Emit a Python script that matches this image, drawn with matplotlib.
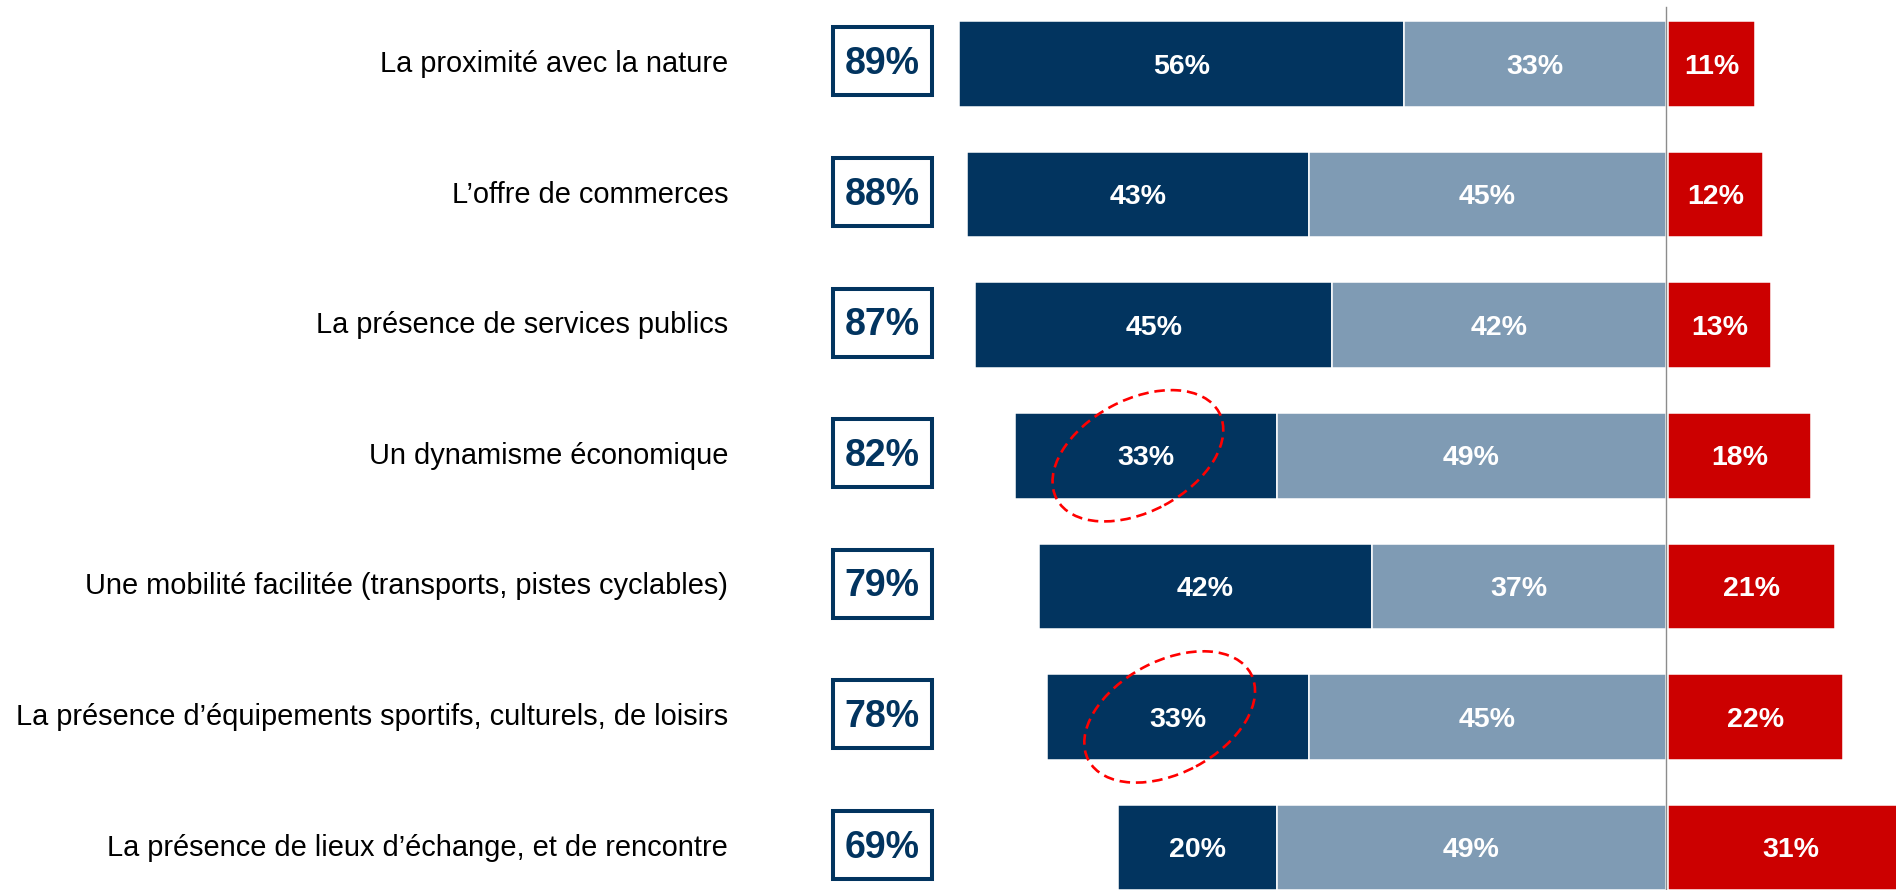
import matplotlib

matplotlib.use("Agg")
import matplotlib.pyplot as plt
from matplotlib.patches import Ellipse, Rectangle
from matplotlib.transforms import ScaledTranslation

categories = [
    "La proximité avec la nature",
    "L’offre de commerces",
    "La présence de services publics",
    "Un dynamisme économique",
    "Une mobilité facilitée (transports, pistes cyclables)",
    "La présence d’équipements sportifs, culturels, de loisirs",
    "La présence de lieux d’échange, et de rencontre",
]
very_important = [56, 43, 45, 33, 42, 33, 20]
rather_important = [33, 45, 42, 49, 37, 45, 49]
not_important = [11, 12, 13, 18, 21, 22, 31]
totals = [89, 88, 87, 82, 79, 78, 69]
highlighted = [3, 5]

NAVY = "#02345f"
LIGHT = "#7f9bb4"
RED = "#cc0000"
FONT = ["Liberation Sans", "DejaVu Sans"]

fig = plt.figure(figsize=(18.96, 8.90), dpi=100)
ax = fig.add_axes([0, 0, 1, 1])
ax.set_xlim(-209.8, 28.97)
ax.set_ylim(6.325, -0.49)
ax.axis("off")

rows = list(range(len(categories)))
height = 0.656
dark_left = [-(a + b) for a, b in zip(very_important, rather_important)]
ax.barh(rows, very_important, left=dark_left, height=height, color=NAVY,
        edgecolor="white", linewidth=1.1)
ax.barh(rows, rather_important, left=[-b for b in rather_important], height=height,
        color=LIGHT, edgecolor="white", linewidth=1.1)
ax.barh(rows, not_important, left=0.25, height=height, color=RED,
        edgecolor="white", linewidth=1.1)

ax.plot([0, 0], [-0.436, 6.4], color="#8c8c8c", lw=1.0, zorder=5)

num_kw = dict(ha="center", va="center", color="white", fontsize=20.5,
              fontweight="bold", family=FONT)
for i in rows:
    ty = i + 0.02  # va=center counts the descent, nudge digits down
    ax.text(dark_left[i] + very_important[i] / 2, ty, f"{very_important[i]}%", **num_kw)
    ax.text(-rather_important[i] / 2, ty, f"{rather_important[i]}%", **num_kw)
    ax.text(0.25 + not_important[i] / 2, ty, f"{not_important[i]}%", **num_kw)

    ax.text(-118.1, i, categories[i], ha="right", va="center", fontsize=20.9,
            color="black", family=FONT)

    # boxed total
    bw, bh = 99 / 7.94, 68 / 130.6
    cy = i - 0.02
    ax.add_patch(Rectangle((-98.7 - bw / 2, cy - bh / 2), bw, bh, facecolor="white",
                           edgecolor=NAVY, linewidth=2.9, zorder=4))
    ax.text(-98.7, cy + 0.02, f"{totals[i]}%", ha="center", va="center", color=NAVY,
            fontsize=27, fontweight="bold", family=FONT, zorder=6)

# dashed red ellipses round the highlighted values
for i in highlighted:
    cx = dark_left[i] + very_important[i] / 2 - 1.0
    ell = Ellipse((0, 0), 1.84, 1.12, angle=28,
                  transform=fig.dpi_scale_trans + ScaledTranslation(cx, i, ax.transData),
                  fill=False, edgecolor="#ff0000", linewidth=1.9,
                  linestyle=(0, (4, 2.2)), zorder=7)
    ax.add_patch(ell)

fig.savefig("out.png", dpi=100)
